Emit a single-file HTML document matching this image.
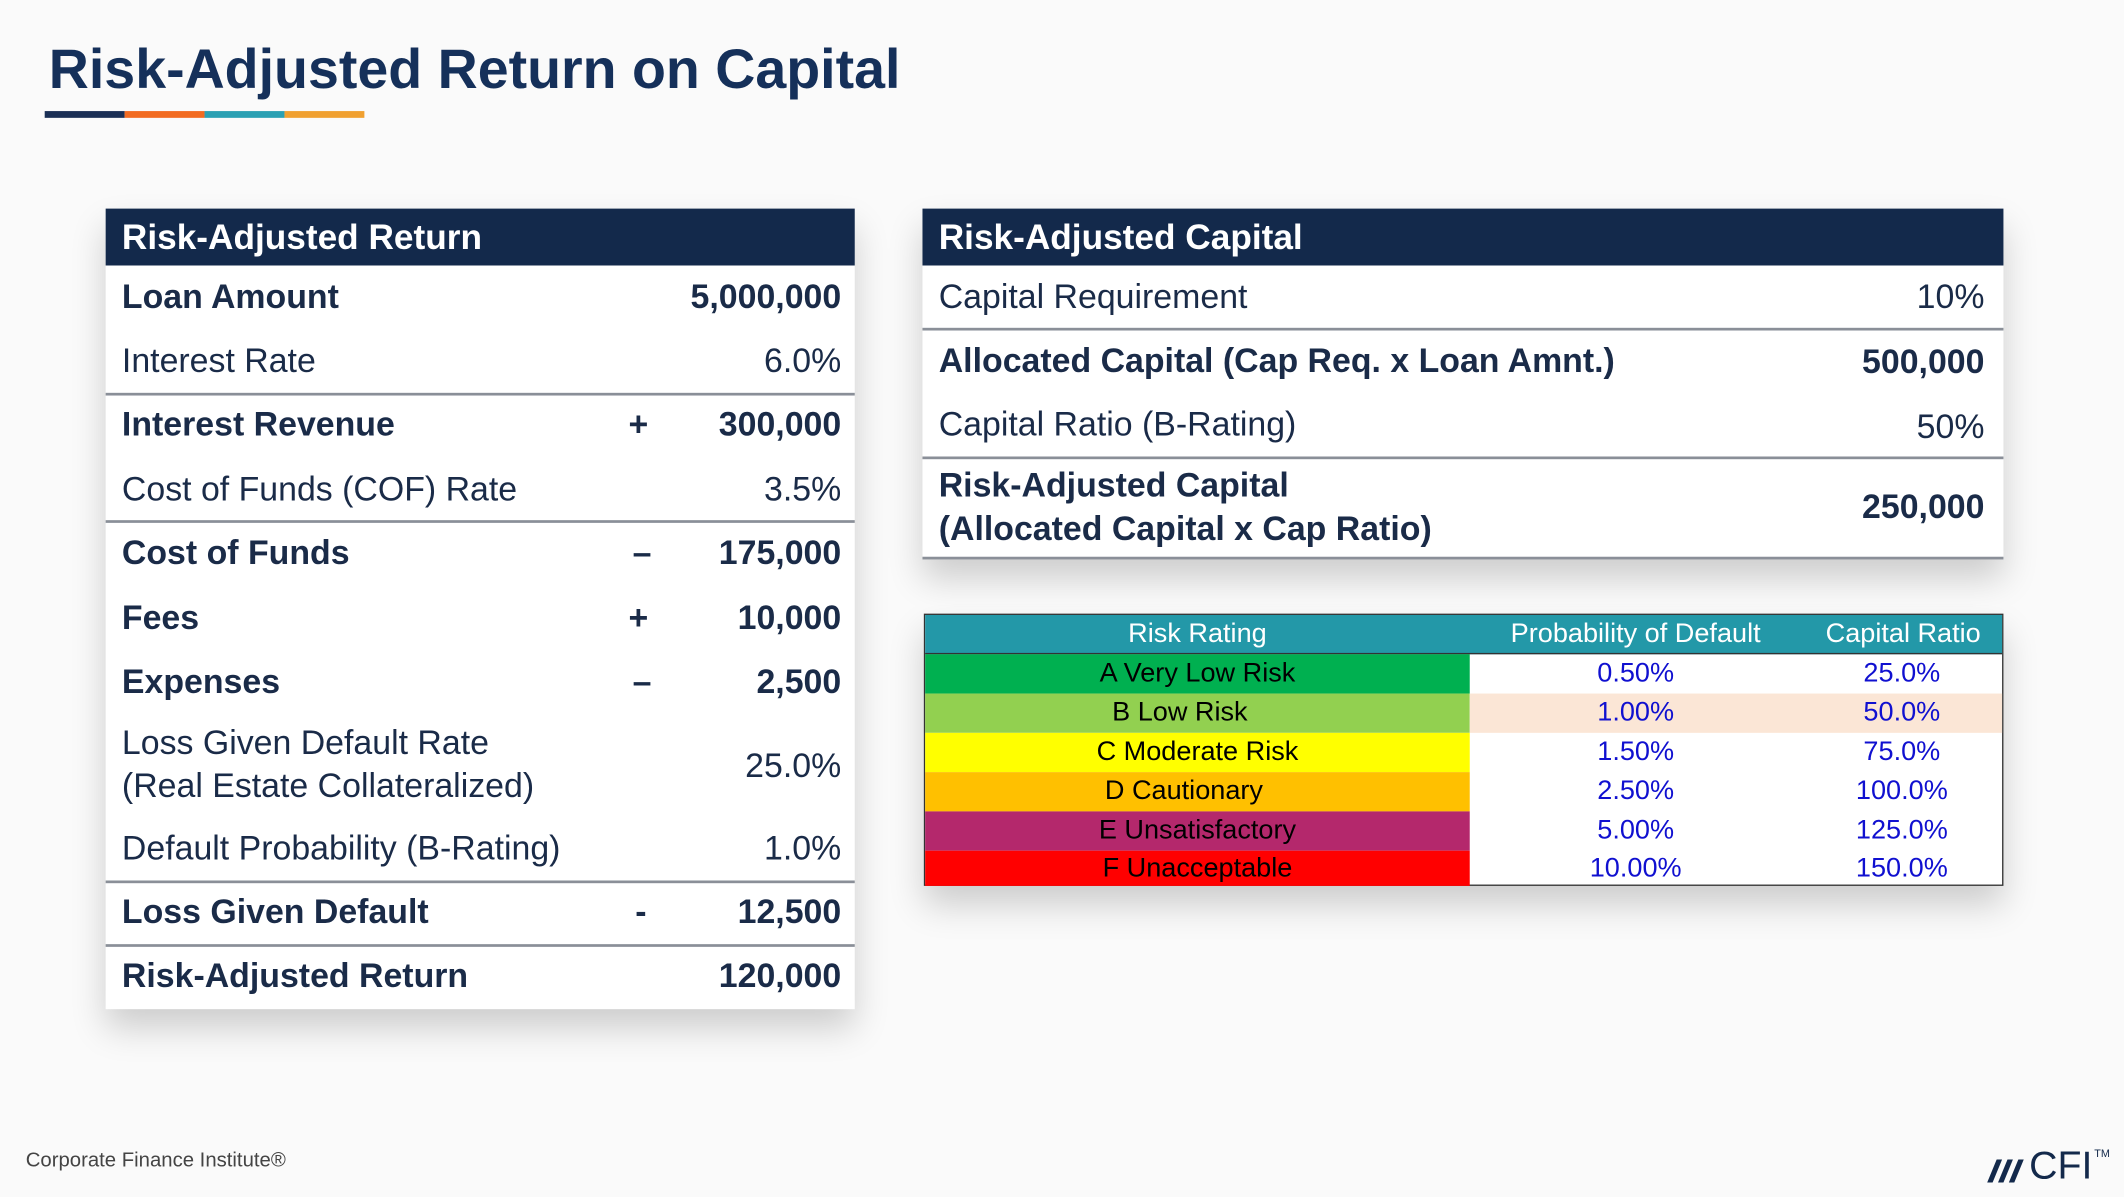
<!DOCTYPE html>
<html><head><meta charset="utf-8"><style>
html,body{margin:0;padding:0;background:#fafafa;}
body{width:2124px;height:1197px;overflow:hidden;position:relative;}
#s{position:absolute;left:0;top:0;width:1568px;height:883px;transform:scale(1.35459);transform-origin:0 0;font-family:"Liberation Sans",sans-serif;color:#1a2b48;}
.a{position:absolute;}
.t{font-size:41px;font-weight:bold;color:#15305a;left:36px;top:28px;white-space:nowrap;}
.box{background:#fff;box-shadow:0 14px 24px rgba(0,0,0,0.18);}
.hd{background:#13294b;color:#fff;font-weight:bold;font-size:26px;line-height:42px;padding-left:12px;box-sizing:border-box;}
.r{position:absolute;left:12px;font-size:25px;white-space:nowrap;transform:translateY(-50%);}
.v{position:absolute;font-size:25px;white-space:nowrap;transform:translateY(-50%);text-align:right;}
.b{font-weight:bold;}
.ln{position:absolute;height:2px;background:#8a8f98;}
.rt{font-family:"Liberation Sans Narrow","Liberation Sans",sans-serif;font-size:20px;}
.rt div{position:absolute;line-height:29px;text-align:center;}
</style></head><body><div id="s">
<div class="a t">Risk-Adjusted Return on Capital</div>
<div class="a" style="left:33px;top:82px;width:59px;height:5px;background:#1a2f55"></div>
<div class="a" style="left:92px;top:82px;width:59px;height:5px;background:#f26b21"></div>
<div class="a" style="left:151px;top:82px;width:59px;height:5px;background:#2aa0b3"></div>
<div class="a" style="left:210px;top:82px;width:59px;height:5px;background:#f0a030"></div>

<!-- Left table -->
<div class="a box" style="left:78px;top:154px;width:553px;height:591px">
<div class="hd" style="height:42px">Risk-Adjusted Return</div>
<div class="r b" style="top:66px">Loan Amount</div><div class="v b" style="right:10px;top:66px">5,000,000</div>
<div class="r" style="top:113px">Interest Rate</div><div class="v" style="right:10px;top:113px">6.0%</div>
<div class="ln" style="left:0;right:0;top:136px"></div>
<div class="r b" style="top:160px">Interest Revenue</div><div class="v b" style="left:386px;top:160px">+</div><div class="v b" style="right:10px;top:160px">300,000</div>
<div class="r" style="top:208px">Cost of Funds (COF) Rate</div><div class="v" style="right:10px;top:208px">3.5%</div>
<div class="ln" style="left:0;right:0;top:230px"></div>
<div class="r b" style="top:255px">Cost of Funds</div><div class="v b" style="left:389px;top:255px">–</div><div class="v b" style="right:10px;top:255px">175,000</div>
<div class="r b" style="top:303px">Fees</div><div class="v b" style="left:386px;top:303px">+</div><div class="v b" style="right:10px;top:303px">10,000</div>
<div class="r b" style="top:350px">Expenses</div><div class="v b" style="left:389px;top:350px">–</div><div class="v b" style="right:10px;top:350px">2,500</div>
<div class="r" style="top:395px">Loss Given Default Rate</div>
<div class="r" style="top:427px">(Real Estate Collateralized)</div><div class="v" style="right:10px;top:412px">25.0%</div>
<div class="r" style="top:473px">Default Probability (B-Rating)</div><div class="v" style="right:10px;top:473px">1.0%</div>
<div class="ln" style="left:0;right:0;top:496px"></div>
<div class="r b" style="top:520px">Loss Given Default</div><div class="v b" style="left:391px;top:520px">-</div><div class="v b" style="right:10px;top:520px">12,500</div>
<div class="ln" style="left:0;right:0;top:543px"></div>
<div class="r b" style="top:567px">Risk-Adjusted Return</div><div class="v b" style="right:10px;top:567px">120,000</div>
</div>

<!-- Right table -->
<div class="a box" style="left:681px;top:154px;width:798px;height:259px">
<div class="hd" style="height:42px">Risk-Adjusted Capital</div>
<div class="r" style="top:66px">Capital Requirement</div><div class="v" style="right:14px;top:66px">10%</div>
<div class="ln" style="left:0;right:0;top:88px"></div>
<div class="r b" style="top:113px">Allocated Capital (Cap Req. x Loan Amnt.)</div><div class="v b" style="right:14px;top:114px">500,000</div>
<div class="r" style="top:160px">Capital Ratio (B-Rating)</div><div class="v" style="right:14px;top:162px">50%</div>
<div class="ln" style="left:0;right:0;top:183px"></div>
<div class="r b" style="top:205px">Risk-Adjusted Capital</div>
<div class="r b" style="top:237px">(Allocated Capital x Cap Ratio)</div><div class="v b" style="right:14px;top:221px">250,000</div>
<div class="ln" style="left:0;right:0;top:257px"></div>
</div>

<!-- Risk rating table -->
<div class="a box rt" style="left:682px;top:453px;width:797px;height:201px;box-sizing:border-box;border:1px solid #333;">
<div style="left:0;top:0;width:795px;height:28px;background:#2398a8;border-bottom:1px solid #333"></div>
<div style="left:0;top:0;width:402px;color:#fff">Risk Rating</div>
<div style="left:402px;top:0;width:245px;color:#fff">Probability of Default</div>
<div style="left:647px;top:0;width:150px;color:#fff">Capital Ratio</div>
<div style="left:0;top:29px;width:402px;background:#00b050;color:#000">A Very Low Risk</div>
<div style="left:0;top:58px;width:402px;background:#92d050;color:#000;text-indent:-26px">B Low Risk</div>
<div style="left:0;top:87px;width:402px;background:#ffff00;color:#000">C Moderate Risk</div>
<div style="left:0;top:116px;width:402px;background:#ffc000;color:#000;text-indent:-20px">D Cautionary</div>
<div style="left:0;top:145px;width:402px;background:#b4286c;color:#000">E Unsatisfactory</div>
<div style="left:0;top:174px;width:402px;height:26px;line-height:26px;background:#ff0000;color:#000">F Unacceptable</div>
<div style="left:402px;top:58px;width:393px;height:29px;background:#fbe6d6"></div>
<div style="left:402px;top:29px;width:245px;color:#1010d0">0.50%</div><div style="left:647px;top:29px;width:148px;color:#1010d0">25.0%</div>
<div style="left:402px;top:58px;width:245px;color:#1010d0">1.00%</div><div style="left:647px;top:58px;width:148px;color:#1010d0">50.0%</div>
<div style="left:402px;top:87px;width:245px;color:#1010d0">1.50%</div><div style="left:647px;top:87px;width:148px;color:#1010d0">75.0%</div>
<div style="left:402px;top:116px;width:245px;color:#1010d0">2.50%</div><div style="left:647px;top:116px;width:148px;color:#1010d0">100.0%</div>
<div style="left:402px;top:145px;width:245px;color:#1010d0">5.00%</div><div style="left:647px;top:145px;width:148px;color:#1010d0">125.0%</div>
<div style="left:402px;top:174px;width:245px;line-height:26px;color:#1010d0">10.00%</div><div style="left:647px;top:174px;width:148px;line-height:26px;color:#1010d0">150.0%</div>
</div>

<div class="a" style="left:19px;top:848px;font-size:15px;color:#444">Corporate Finance Institute®</div>
<div class="a" style="left:1466px;top:846px;width:100px;height:30px">
<svg width="30" height="28" style="position:absolute;left:0;top:4px"><g fill="#13294b"><path d="M1 23 L8 6 L12 6 L5 23Z"/><path d="M9 23 L16 6 L20 6 L13 23Z"/><path d="M17 23 L24 6 L28 6 L21 23Z"/></g></svg>
<div style="position:absolute;left:32px;top:-1px;font-size:29px;color:#13294b">CFI</div>
<div style="position:absolute;left:80px;top:1px;font-size:8px;color:#13294b">TM</div>
</div>
</div></body></html>
